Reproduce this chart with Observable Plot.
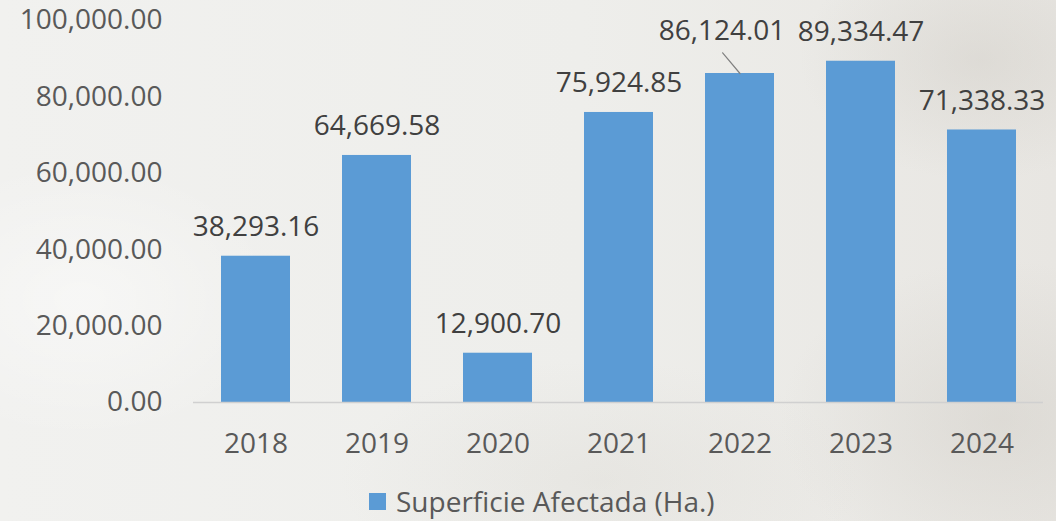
<!DOCTYPE html>
<html>
<head>
<meta charset="utf-8">
<script src="https://cdn.jsdelivr.net/npm/d3@7"></script>
<script src="https://cdn.jsdelivr.net/npm/@observablehq/plot@0.6"></script>
<style>
  html, body { margin: 0; padding: 0; }
  body {
    width: 1056px; height: 521px; overflow: hidden; position: relative;
    font-family: "Open Sans", sans-serif;
    background:
      radial-gradient(ellipse 180px 120px at 980px 60px, rgba(200,196,188,0.35), transparent),
      radial-gradient(ellipse 220px 160px at 1000px 420px, rgba(200,196,188,0.35), transparent),
      radial-gradient(ellipse 200px 140px at 80px 300px, rgba(255,255,255,0.45), transparent),
      radial-gradient(ellipse 260px 120px at 600px 480px, rgba(210,206,198,0.25), transparent),
      linear-gradient(90deg, #f1f1ef 0%, #eeeeeb 55%, #e8e6e2 100%);
  }
  #chart svg { display: block; }
  #legend {
    position: absolute; left: 369px; top: 484px;
    display: flex; align-items: center;
    font-size: 28px; line-height: 34px; color: #595959;
  }
  #legend .sw { width: 17px; height: 17px; background: #5B9BD5; margin-right: 10px; }
</style>
</head>
<body>
<div id="chart"></div>
<div id="legend"><span class="sw"></span><span>Superficie Afectada (Ha.)</span></div>
<script>
const years = ["2018", "2019", "2020", "2021", "2022", "2023", "2024"];
const values = [38293.16, 64669.58, 12900.70, 75924.85, 86124.01, 89334.47, 71338.33];
const yTicks = [0, 20000, 40000, 60000, 80000, 100000];
const seriesName = "Superficie Afectada (Ha.)";
const leaderYear = "2022";

const data = years.map((y, i) => ({year: y, value: values[i]}));
const fmt = d3.format(",.2f");
const barColor = "#5B9BD5";

const chart = Plot.plot({
  width: 1056,
  height: 470,
  marginLeft: 193,
  marginRight: 13,
  marginTop: 20,
  marginBottom: 68,
  style: {background: "transparent", fontFamily: "Open Sans, sans-serif", fontSize: "28px", color: "#595959"},
  x: {domain: years, paddingInner: 0.43, paddingOuter: 0.21, label: null},
  y: {domain: [0, 100000], label: null},
  marks: [
    Plot.axisY({ticks: yTicks, tickFormat: fmt, tickSize: 0, tickPadding: 31, label: null, fill: "#595959", fontSize: 28}),
    Plot.axisX({tickSize: 0, tickPadding: 31, label: null, fill: "#595959", fontSize: 28}),
    Plot.barY(data, {x: "year", y: "value", fill: barColor}),
    Plot.ruleY([0], {stroke: "#d0d0d0", strokeWidth: 1.5}),
    Plot.text(data.filter(d => d.year !== leaderYear), {
      x: "year", y: "value", text: d => fmt(d.value),
      lineAnchor: "bottom", dy: -20, fill: "#404040", fontSize: 28
    }),
    Plot.text(data.filter(d => d.year === leaderYear), {
      x: "year", y: "value", text: d => fmt(d.value),
      lineAnchor: "bottom", dy: -34, dx: -18, fill: "#404040", fontSize: 28
    }),
    Plot.vector(data.filter(d => d.year === leaderYear), {
      x: "year", y: "value", anchor: "start", length: 27, rotate: -40,
      stroke: "#808080", strokeWidth: 1.2,
      shape: {draw(ctx, l) { ctx.moveTo(0, 0); ctx.lineTo(0, -l); }}
    })
  ]
});
document.getElementById("chart").appendChild(chart);
</script>
</body>
</html>
